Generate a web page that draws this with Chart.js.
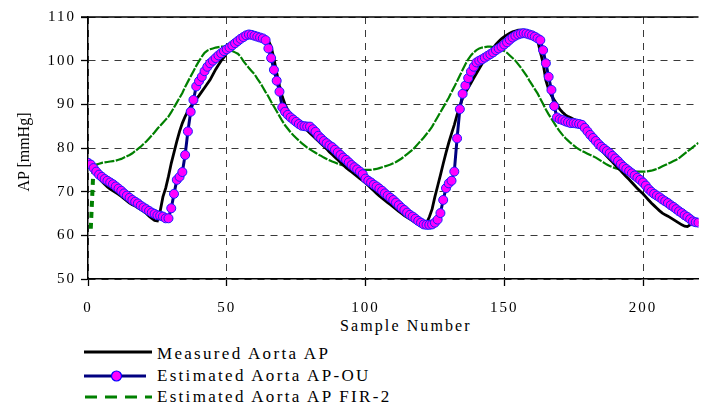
<!DOCTYPE html>
<html>
<head>
<meta charset="utf-8">
<script src="https://cdn.jsdelivr.net/npm/chart.js@4/dist/chart.umd.min.js"></script>
<style>
  html,body{margin:0;padding:0;background:#fff;}
  body{width:704px;height:406px;position:relative;overflow:hidden;font-family:"Liberation Serif","Times New Roman",serif;color:#000;}
  #wrap{position:absolute;left:0;top:0;width:704px;height:316px;}
  .txt{position:absolute;white-space:nowrap;}
  #xtitle{left:340px;top:318px;font-size:16px;line-height:16px;letter-spacing:2.1px;}
  #ytitle{left:-76px;top:144px;width:200px;text-align:center;font-size:16px;line-height:16px;transform:rotate(-90deg);}
  .leg{left:157px;font-size:17px;line-height:17px;letter-spacing:2.3px;}
  #legsvg{position:absolute;left:0;top:340px;}
</style>
</head>
<body>
<div id="wrap"><canvas id="c"></canvas></div>
<div id="ytitle" class="txt">AP [mmHg]</div>
<div id="xtitle" class="txt">Sample Number</div>
<svg id="legsvg" width="160" height="66">
  <line x1="84" y1="12" x2="152" y2="12" stroke="#000" stroke-width="3"/>
  <line x1="84" y1="36" x2="146" y2="36" stroke="#000080" stroke-width="3"/>
  <circle cx="116.5" cy="36" r="5" fill="#ff00ff" stroke="#0000ff" stroke-width="1.2"/>
  <line x1="85" y1="57" x2="152" y2="57" stroke="#008000" stroke-width="3" stroke-dasharray="12 8"/>
</svg>
<div id="leg1" class="txt leg" style="top:345px">Measured Aorta AP</div>
<div id="leg2" class="txt leg" style="top:366.5px">Estimated Aorta AP-OU</div>
<div id="leg3" class="txt leg" style="top:388px">Estimated Aorta AP FIR-2</div>
<script>
// Sample numbers 0..220 (index = sample number)
const measuredAP = [
76.5,75.6,74.6,73.8,73.0,72.3,71.7,71.1,70.6,70.2,
69.8,69.4,68.9,68.4,67.9,67.4,67.0,66.7,66.3,65.9,
65.5,65.0,64.4,63.9,63.4,63.3,65.5,68.8,70.8,73.5,
76.5,79.0,81.5,83.8,85.7,87.2,88.5,89.5,90.3,91.2,
92.0,92.9,93.8,94.7,95.6,96.8,98.0,99.0,100.0,100.8,
101.7,102.5,103.2,104.0,104.6,105.2,105.7,106.1,106.3,106.2,
106.0,105.8,105.6,105.4,105.3,104.6,103.2,100.5,97.2,94.3,
91.8,90.0,88.7,87.7,86.9,86.2,85.6,85.1,84.6,84.0,
83.4,82.8,82.2,81.6,81.0,80.4,79.8,79.1,78.5,77.9,
77.3,76.7,76.1,75.5,75.0,74.5,74.0,73.5,73.0,72.5,
72.0,71.4,70.8,70.2,69.6,69.0,68.5,68.0,67.5,67.0,
66.5,66.0,65.5,65.0,64.5,64.1,63.7,63.3,62.9,62.5,
62.1,61.9,62.8,64.2,66.0,68.8,71.3,73.8,76.4,78.9,
81.2,83.3,85.3,87.6,89.6,91.4,92.7,93.8,94.9,96.0,
97.1,98.2,99.3,100.2,101.1,102.0,102.9,103.7,104.4,105.0,
105.5,105.9,106.3,106.6,106.8,107.0,107.0,107.0,106.8,106.4,
106.0,105.5,104.7,102.0,99.4,95.5,93.4,92.0,91.0,90.0,
88.9,88.2,87.6,87.2,86.9,86.6,86.3,85.9,85.4,84.6,
83.8,83.0,82.2,81.4,80.5,79.6,78.8,78.1,77.4,76.8,
76.1,75.4,74.8,74.1,73.4,72.8,72.1,71.4,70.7,70.1,
69.5,68.8,68.1,67.4,66.8,66.2,65.6,65.1,64.7,64.4,
64.0,63.6,63.2,62.8,62.4,62.1,62.0,62.4,62.7,62.9,
63.0];

const estimatedOU = [
76.6,76.2,75.4,74.6,73.9,73.4,72.9,72.5,72.1,71.7,
71.2,70.7,70.2,69.6,69.1,68.6,68.1,67.7,67.3,66.8,
66.4,66.0,65.6,65.2,64.9,64.6,64.5,64.3,63.9,63.9,
66.2,69.5,72.7,73.4,74.5,78.4,83.8,88.3,91.0,94.1,
95.3,96.3,97.6,98.6,99.4,100.0,100.6,101.2,101.7,102.2,
102.6,103.0,103.5,104.0,104.5,105.0,105.4,105.8,106.0,105.9,
105.7,105.5,105.3,105.1,104.7,102.8,100.6,97.9,95.4,92.9,
89.3,88.3,87.6,87.0,86.5,86.0,85.5,85.1,85.0,84.9,
84.9,84.3,83.7,82.8,82.2,81.6,81.1,80.6,80.2,79.6,
79.0,78.4,77.8,77.3,76.7,76.1,75.6,75.1,74.6,74.0,
73.0,72.5,72.1,71.6,71.2,70.7,70.2,69.6,69.1,68.6,
68.1,67.5,66.9,66.3,65.8,65.2,64.7,64.3,63.8,63.3,
62.9,62.5,62.4,62.4,62.5,62.9,63.6,65.1,68.1,70.8,
71.9,72.5,74.6,82.2,88.9,92.4,94.3,96.0,97.5,98.6,
99.6,100.0,100.3,100.7,101.1,101.5,101.9,102.4,102.8,103.2,
103.7,104.2,104.8,105.3,105.7,106.0,106.2,106.3,106.2,106.0,
105.8,105.5,105.1,104.7,102.4,99.4,96.3,93.3,89.6,87.0,
86.6,86.4,86.1,85.9,85.7,85.7,85.6,85.5,85.3,84.6,
83.8,83.0,82.3,81.6,80.9,80.3,79.8,79.3,78.8,78.2,
77.6,77.0,76.3,75.7,75.2,74.7,74.2,73.7,73.2,72.7,
72.1,71.4,70.6,70.0,69.5,69.1,68.7,68.2,67.8,67.4,
66.9,66.5,66.0,65.5,65.1,64.6,64.2,63.7,63.2,63.0,
62.9];

const estimatedFIR2 = [
null,61.5,75.9,76.2,76.4,76.6,76.7,76.8,76.9,77.0,
77.1,77.3,77.5,77.8,78.1,78.4,78.8,79.3,79.8,80.3,
80.9,81.5,82.2,82.9,83.6,84.4,85.1,85.8,86.5,87.2,
88.2,89.3,90.4,91.5,92.6,94.0,95.2,96.4,97.6,98.8,
99.9,100.9,101.8,102.3,102.6,102.8,103.0,103.1,103.2,103.2,
103.0,102.6,102.2,101.9,101.6,100.9,99.9,99.1,98.3,97.6,
96.9,95.9,95.0,93.9,92.8,91.8,90.6,89.5,88.4,87.3,
86.2,85.2,84.4,83.6,82.9,82.3,81.7,81.1,80.6,80.1,
79.7,79.3,78.9,78.5,78.2,77.8,77.5,77.2,76.9,76.7,
76.4,76.2,76.0,75.8,75.6,75.4,75.3,75.2,75.1,75.0,
75.0,75.0,75.0,75.1,75.2,75.4,75.6,75.8,76.0,76.2,
76.5,76.8,77.2,77.6,78.1,78.6,79.1,79.6,80.3,81.0,
81.7,82.4,83.2,84.0,84.9,86.0,87.1,88.2,89.3,90.4,
91.5,92.8,94.0,95.3,96.6,97.9,99.2,100.3,101.2,101.9,
102.4,102.8,103.0,103.1,103.2,103.2,103.1,102.9,102.7,102.5,
102.2,101.8,101.2,100.6,100.0,99.2,98.4,97.5,96.6,95.5,
94.5,93.5,92.5,91.3,90.1,88.8,87.7,86.7,85.7,84.7,
83.8,83.0,82.3,81.7,81.1,80.6,80.1,79.7,79.3,79.0,
78.7,78.4,78.1,77.8,77.4,77.0,76.6,76.2,75.9,75.6,
75.4,75.2,75.0,74.9,74.8,74.7,74.7,74.6,74.6,74.6,
74.6,74.6,74.7,74.8,75.0,75.2,75.5,75.8,76.1,76.4,
76.7,77.0,77.3,77.7,78.2,78.7,79.2,79.7,80.2,80.7,
81.2];

const xTicks = [0, 50, 100, 150, 200];
const yTicks = [50, 60, 70, 80, 90, 100, 110];

const toXY = arr => arr.map((v, i) => ({x: i, y: v}));

const SERIF = '"Liberation Serif", "Times New Roman", serif';
let spacingWorks = false;
try {
  const t = document.createElement('canvas').getContext('2d');
  t.font = '15px ' + SERIF;
  const w0 = t.measureText('110').width;
  if ('letterSpacing' in t) {
    t.letterSpacing = '2px';
    t.font = '15px ' + SERIF;
    spacingWorks = (t.measureText('110').width - w0) > 3;
  }
} catch (e) { spacingWorks = false; }
const tickFont = spacingWorks
  ? {family: SERIF, size: 15}
  : {family: '"DejaVu Serif", serif', size: 13.5};

const textSpacing = {
  id: 'textSpacing',
  beforeDraw(chart){ if (spacingWorks) chart.ctx.letterSpacing = '2px'; },
  afterDraw(chart){ if (spacingWorks) chart.ctx.letterSpacing = '0px'; }
};
const topFrame = {
  id: 'topFrame',
  beforeDatasetsDraw(chart){
    const {ctx, chartArea:a} = chart;
    ctx.save();
    ctx.strokeStyle = '#000';
    ctx.lineWidth = 1.5;
    ctx.beginPath();
    ctx.moveTo(a.left - 7, a.top);
    ctx.lineTo(a.right, a.top);
    ctx.stroke();
    ctx.restore();
  }
};

new Chart(document.getElementById('c'), {
  type: 'line',
  data: {
    datasets: [
      {
        label: 'Estimated Aorta AP-OU',
        data: toXY(estimatedOU),
        borderColor: '#000080',
        borderWidth: 3,
        pointRadius: 4.5,
        pointBackgroundColor: '#ff00ff',
        pointBorderColor: '#1a1aff',
        pointBorderWidth: 1,
        tension: 0,
        order: 1
      },
      {
        label: 'Measured Aorta AP',
        data: toXY(measuredAP),
        borderColor: '#000000',
        borderWidth: 2.8,
        pointRadius: 0,
        tension: 0,
        order: 2
      },
      {
        label: 'Estimated Aorta AP FIR-2',
        data: toXY(estimatedFIR2),
        borderColor: '#008000',
        borderWidth: 2.2,
        borderDash: [10, 1.5],
        pointRadius: 0,
        tension: 0,
        order: 3,
        segment: {
          borderDash: c => c.p0DataIndex === 1 ? [6, 5] : [10, 1.5],
          borderWidth: c => c.p0DataIndex === 1 ? 4 : 2.2
        }
      }
    ]
  },
  options: {
    responsive: true,
    maintainAspectRatio: false,
    animation: false,
    devicePixelRatio: 1,
    layout: {padding: {top: 17, right: 0, left: 0, bottom: 0}},
    plugins: {legend: {display: false}, tooltip: {enabled: false}},
    scales: {
      x: {
        type: 'linear',
        min: 0, max: 220,
        afterFit: s => { s.height = 37; },
        afterBuildTicks: s => { s.ticks = xTicks.map(v => ({value: v})); },
        ticks: {
          stepSize: 50, includeBounds: false, autoSkip: false, maxRotation: 0,
          color: '#000', padding: 13,
          font: tickFont
        },
        grid: {color: '#3a3a3a', lineWidth: 1, tickLength: 7, tickColor: '#000', tickWidth: 1.3},
        border: {color: '#000', width: 1.5, dash: [7, 6]}
      },
      y: {
        min: 50, max: 110,
        afterFit: s => { s.width = 88; },
        afterBuildTicks: s => { s.ticks = yTicks.map(v => ({value: v})); },
        ticks: {
          stepSize: 10, color: '#000', padding: spacingWorks ? 5 : 7,
          font: tickFont
        },
        grid: {color: '#3a3a3a', lineWidth: 1, tickLength: 7, tickColor: '#000', tickWidth: 1.3},
        border: {color: '#000', width: 1.5, dash: [7, 6]}
      }
    }
  },
  plugins: [textSpacing, topFrame]
});
</script>
</body>
</html>
